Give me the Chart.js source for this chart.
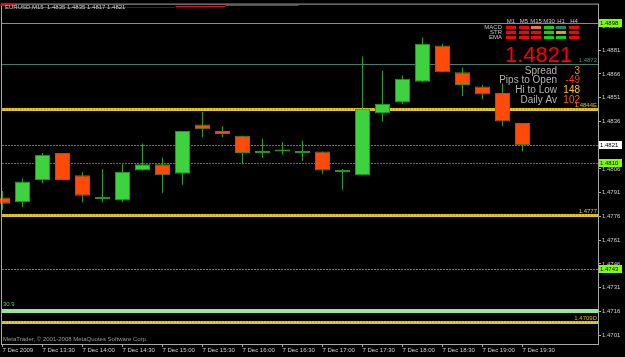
<!DOCTYPE html>
<html>
<head>
<meta charset="utf-8">
<title>EURUSD,M15</title>
<script src="https://cdn.jsdelivr.net/npm/chart.js@4.4.1/dist/chart.umd.min.js"></script>
<style>
  html, body { margin: 0; padding: 0; background: #000; }
  #wrap { position: relative; width: 625px; height: 357px; }
</style>
</head>
<body>
<div id="wrap"><canvas id="chart"></canvas></div>
<script>
// EURUSD M15 candles, 7 Dec 2009 13:00 - 19:30, MetaTrader style.

const symbol = "EURUSD,M15";

// one entry per 15-minute bar, 13:00 .. 19:30
const opens  = [1.4788, 1.4785, 1.4799, 1.4816, 1.4802, 1.4788, 1.4786, 1.4805, 1.4809, 1.4803,
                1.4834, 1.4830, 1.4827, 1.4817, 1.4817, 1.4816, 1.4817, 1.4804, 1.4802, 1.4841,
                1.4848, 1.4861, 1.4884, 1.4867, 1.4858, 1.4854, 1.4835];
const highs  = [1.4792, 1.4800, 1.4816, 1.4816, 1.4804, 1.4806, 1.4809, 1.4822, 1.4813, 1.4830,
                1.4842, 1.4833, 1.4827, 1.4825, 1.4823, 1.4824, 1.4817, 1.4806, 1.4877, 1.4868,
                1.4865, 1.4889, 1.4885, 1.4870, 1.4859, 1.4860, 1.4835];
const lows   = [1.4780, 1.4782, 1.4797, 1.4799, 1.4785, 1.4785, 1.4785, 1.4805, 1.4791, 1.4796,
                1.4826, 1.4826, 1.4809, 1.4813, 1.4815, 1.4811, 1.4803, 1.4793, 1.4802, 1.4836,
                1.4847, 1.4861, 1.4867, 1.4852, 1.4850, 1.4833, 1.4817];
const closes = [1.4784, 1.4798, 1.4815, 1.4799, 1.4789, 1.4787, 1.4804, 1.4809, 1.4802, 1.4830,
                1.4831, 1.4828, 1.4816, 1.4816, 1.4817, 1.4816, 1.4805, 1.4804, 1.4844, 1.4847,
                1.4863, 1.4885, 1.4867, 1.4859, 1.4853, 1.4836, 1.4821];

// time axis: a label every second bar
const timeTickIdx = [0, 2, 4, 6, 8, 10, 12, 14, 16, 18, 20, 22, 24, 26];
const timeTickLabels = ["7 Dec 2009", "7 Dec 13:30", "7 Dec 14:00", "7 Dec 14:30", "7 Dec 15:00",
                        "7 Dec 15:30", "7 Dec 16:00", "7 Dec 16:30", "7 Dec 17:00", "7 Dec 17:30",
                        "7 Dec 18:00", "7 Dec 18:30", "7 Dec 19:00", "7 Dec 19:30"];

// price axis
const priceTicks = [1.4896, 1.4881, 1.4866, 1.4851, 1.4836, 1.4821, 1.4806, 1.4791, 1.4776,
                    1.4761, 1.4746, 1.4731, 1.4716, 1.4701];
const priceMin = 1.46954;
const priceMax = 1.49098;

// horizontal levels across the chart
const levelPrices = [1.4898, 1.4872, 1.4844, 1.4821, 1.4810, 1.4777, 1.4743, 1.4716, 1.4709];
const levelTags   = ["", "1.4872", "1.4844E", "", "", "1.4777", "", "", "1.4709D"];
const levelBoxes  = ["1.4898", "", "", "1.4821", "1.4810", "", "1.4743", "", ""];
const levelNote   = ["", "", "", "", "", "", "", "30.9", ""];

// short red indicator segments along the top edge (bar index from/to, price)
const topSegFrom  = [-0.1, 0.65, 6.15, 8.65, 11.15];
const topSegTo    = [0.65, 6.15, 8.65, 11.15, 14.8];
const topSegPrice = [1.49094, 1.49083, 1.49084, 1.49087, 1.49093];

// indicator panel (top right)
const panelFrames = ["M1", "M5", "M15", "M30", "H1", "H4"];
const panelRows = ["MACD", "STR", "EMA"];
const panelSignals = [
  ["dn", "dn", "dn2", "up", "up2", "dn"],
  ["dn", "dn", "dn", "up", "flat", "dn"],
  ["dn", "dn", "dn", "up", "up", "dn"],
];

const infoLabels = ["Spread", "Pips to Open", "Hi to Low", "Daily Av"];
const infoValues = [3, -49, 148, 102];

// ---- styles ----
const FONT = '"Liberation Sans", Arial, sans-serif';
const BULL = "#3ed23e";
const BEAR = "#ff4a0a";
const EDGE = "#1f9a1f";
const WICK = "#22a622";
const AXIS_TXT = "#cfcfcf";
const FRAME = "#a8a8a8";

const levelStyles = [
  { color: "#5cbf00", width: 1 },
  { color: "#3f7f74", width: 1 },
  { color: "#e6c619", width: 3, dots: "#9c8a10" },
  { color: "#66746a", width: 1, dash: [2, 1] },
  { color: "#4a7f4a", width: 1, dash: [2, 1] },
  { color: "#e6c619", width: 3, dots: "#9c8a10" },
  { color: "#4caf00", width: 1, dash: [2, 1] },
  { color: "#96e896", width: 4 },
  { color: "#e6c619", width: 3, dots: "#9c8a10" },
];
const topSegStyles = [
  { width: 2 }, { width: 1 }, { width: 1, dash: [1, 1] }, { width: 1 }, { width: 1 },
];
const tagColors = ["", "#3a9a8a", "#d8c000", "", "", "#c8c840", "", "", "#d8c000"];
const boxColors = ["#80ff00", "", "", "#ffffff", "#80ff00", "", "#80ff00", "", ""];
const signalColors = { up: "#00dd00", up2: "#1e8c50", dn: "#ff0000", dn2: "#ff6a4a", flat: "#d8a020" };
const infoColors = ["#f0a020", "#ff3c14", "#ffcc00", "#ff5a14"];

const isBull = (i) => closes[i] > opens[i];
const isDoji = (i) => closes[i] === opens[i];

const bodyData = opens.map((o, i) => ({ x: i, y: [o, closes[i]] }));
const wickData = lows.map((l, i) => ({ x: i, y: [l, highs[i]] }));

const xMin = -0.025;
const xMax = xMin + 29.8;

const decor = {
  id: "decor",
  beforeDraw(chart) {
    const { ctx, width, height } = chart;
    ctx.save();
    ctx.fillStyle = "#000";
    ctx.fillRect(0, 0, width, height);
    ctx.restore();
  },
  beforeDatasetsDraw(chart) {
    const { ctx, chartArea: a, scales: { y } } = chart;
    ctx.save();
    ctx.beginPath();
    ctx.rect(a.left, a.top, a.right - a.left, a.bottom - a.top);
    ctx.clip();
    levelPrices.forEach((p, k) => {
      const s = levelStyles[k];
      const py = Math.round(y.getPixelForValue(p)) + (s.width % 2 ? 0.5 : 0);
      ctx.strokeStyle = s.color;
      ctx.lineWidth = s.width;
      ctx.setLineDash(s.dash || []);
      ctx.beginPath();
      ctx.moveTo(a.left, py);
      ctx.lineTo(a.right, py);
      ctx.stroke();
      if (s.dots) {
        ctx.strokeStyle = s.dots;
        ctx.lineWidth = 1;
        ctx.setLineDash([1, 2]);
        ctx.beginPath();
        ctx.moveTo(a.left, py - 0.5);
        ctx.lineTo(a.right, py - 0.5);
        ctx.stroke();
      }
    });
    ctx.restore();
  },
  afterDraw(chart) {
    const { ctx, chartArea: a, scales: { x, y } } = chart;
    ctx.save();

    // frame
    ctx.strokeStyle = FRAME;
    ctx.lineWidth = 1;
    ctx.strokeRect(a.left - 0.5, a.top - 0.5, a.right - a.left + 1, a.bottom - a.top + 1);

    // red segments on the top edge
    ctx.strokeStyle = "#e01010";
    topSegFrom.forEach((f, k) => {
      const s = topSegStyles[k];
      const py = Math.round(y.getPixelForValue(topSegPrice[k])) + (s.width % 2 ? 0.5 : 0);
      ctx.lineWidth = s.width;
      ctx.setLineDash(s.dash || []);
      ctx.beginPath();
      ctx.moveTo(Math.max(0, x.getPixelForValue(f)), py);
      ctx.lineTo(x.getPixelForValue(topSegTo[k]), py);
      ctx.stroke();
    });
    ctx.setLineDash([]);

    // header
    ctx.font = "6px " + FONT;
    ctx.fillStyle = AXIS_TXT;
    ctx.textAlign = "left";
    ctx.textBaseline = "middle";
    const n = closes.length - 1;
    const ohlc = [opens[n], highs[n], lows[n], closes[n]].map((v) => v.toFixed(4)).join(" ");
    ctx.fillText(symbol + "  " + ohlc, 5, 7);

    // line tags inside the plot, right side
    ctx.textAlign = "right";
    ctx.textBaseline = "alphabetic";
    levelPrices.forEach((p, k) => {
      const py = y.getPixelForValue(p);
      if (levelTags[k]) {
        ctx.fillStyle = tagColors[k];
        ctx.fillText(levelTags[k], a.right - 1, py - 2);
      }
      if (levelNote[k]) {
        ctx.textAlign = "left";
        ctx.fillStyle = "#70c070";
        ctx.fillText(levelNote[k], a.left + 1, py - 5);
        ctx.textAlign = "right";
      }
    });

    // price boxes on the axis
    ctx.textAlign = "left";
    ctx.textBaseline = "middle";
    levelPrices.forEach((p, k) => {
      if (!levelBoxes[k]) return;
      const py = Math.round(y.getPixelForValue(p));
      ctx.fillStyle = boxColors[k];
      ctx.fillRect(a.right + 1, py - 4, 23, 8);
      ctx.fillStyle = "#000";
      ctx.fillText(levelBoxes[k], a.right + 2, py);
    });

    // signal panel
    ctx.font = "6px " + FONT;
    ctx.textAlign = "center";
    ctx.fillStyle = "#c8c8c8";
    panelFrames.forEach((tf, c) => ctx.fillText(tf, 511 + Math.round(c * 12.6), 21));
    panelRows.forEach((row, r) => {
      ctx.textAlign = "right";
      ctx.fillStyle = "#c8c8c8";
      ctx.fillText(row, 502, 27.5 + r * 5);
      panelSignals[r].forEach((s, c) => {
        ctx.fillStyle = signalColors[s];
        ctx.fillRect(506 + Math.round(c * 12.6), 26 + r * 5, 10, 3);
      });
    });

    // big last price
    ctx.textAlign = "left";
    ctx.textBaseline = "alphabetic";
    ctx.font = "22px " + FONT;
    ctx.fillStyle = "#ff0000";
    ctx.fillText(closes[n].toFixed(4), 505, 62);

    // info block
    ctx.font = "10px " + FONT;
    infoLabels.forEach((lab, k) => {
      const by = 73.5 + k * 9.7;
      ctx.textAlign = "right";
      ctx.fillStyle = "#b4b4b4";
      ctx.fillText(lab, 557, by);
      ctx.fillStyle = infoColors[k];
      ctx.fillText(String(infoValues[k]), 580, by);
    });

    // copyright
    ctx.font = "6px " + FONT;
    ctx.textAlign = "left";
    ctx.fillStyle = "#9a9a9a";
    ctx.fillText("MetaTrader, \u00a9 2001-2008 MetaQuotes Software Corp.", 3, 341);

    ctx.restore();
  },
};

new Chart(document.getElementById("chart"), {
  type: "bar",
  data: {
    datasets: [
      {
        label: "body",
        data: bodyData,
        order: 0,
        grouped: false,
        barThickness: 15,
        minBarLength: 2,
        inflateAmount: 0,
        borderSkipped: false,
        borderWidth: 1,
        borderColor: EDGE,
        backgroundColor: opens.map((o, i) => (isDoji(i) ? EDGE : isBull(i) ? BULL : BEAR)),
        clip: { left: 3, top: 0, right: 0, bottom: 0 },
      },
      {
        label: "wick",
        data: wickData,
        order: 1,
        grouped: false,
        barThickness: 1,
        inflateAmount: 0,
        borderWidth: 0,
        backgroundColor: WICK,
        clip: { left: 3, top: 0, right: 0, bottom: 0 },
      },
    ],
  },
  options: {
    responsive: true,
    maintainAspectRatio: false,
    animation: false,
    events: [],
    layout: { padding: { top: 2, left: 2, right: 0, bottom: 0 } },
    plugins: { legend: { display: false }, tooltip: { enabled: false } },
    scales: {
      x: {
        type: "linear",
        offset: false,
        min: xMin,
        max: xMax,
        afterBuildTicks: (s) => { s.ticks = timeTickIdx.map((v) => ({ value: v })); },
        afterFit: (s) => { s.height = 13; },
        ticks: {
          autoSkip: false,
          maxRotation: 0,
          minRotation: 0,
          align: "start",
          padding: 0,
          color: AXIS_TXT,
          font: { family: FONT, size: 6 },
          callback: (v, i) => timeTickLabels[i],
        },
        grid: { offset: false, drawOnChartArea: false, drawTicks: true, tickLength: 3, color: FRAME },
        border: { display: false },
      },
      y: {
        position: "right",
        min: priceMin,
        max: priceMax,
        afterBuildTicks: (s) => { s.ticks = priceTicks.map((v) => ({ value: v })); },
        afterFit: (s) => { s.width = 27; },
        ticks: {
          padding: 1,
          color: AXIS_TXT,
          font: { family: FONT, size: 6 },
          callback: (v) => Number(v).toFixed(4),
        },
        grid: { drawOnChartArea: false, drawTicks: true, tickLength: 3, color: FRAME },
        border: { display: false },
      },
    },
  },
  plugins: [decor],
});
</script>
</body>
</html>
